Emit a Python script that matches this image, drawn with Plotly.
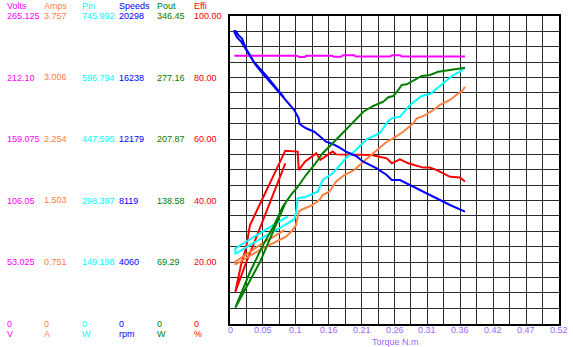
import plotly.graph_objects as go

# ---------------- data ----------------
# Speed (rpm) vs torque (N.m)
speed_t = [0.0853, 0.0569, 0.0379, 0.0253, 0.0190, 0.0138, 0.0095, 0.0068,
           0.0071, 0.0111, 0.0174, 0.0253, 0.0316, 0.0395, 0.0474, 0.0569, 0.0727,
           0.0885, 0.1016, 0.1086, 0.1098, 0.1201, 0.1332, 0.1438, 0.1517, 0.1623,
           0.1727, 0.1833, 0.1991, 0.2107, 0.2319, 0.2477, 0.2556, 0.2687, 0.2845,
           0.3055, 0.3267, 0.3477, 0.3714]
speed_v = [14918, 16370, 17262, 18153, 18813, 19011, 19275, 19341,
           19209, 18879, 18615, 18087, 17724, 17130, 16701, 16238, 15512,
           14753, 14093, 13545, 13169, 12885, 12661, 12291, 12001, 11849,
           11631, 11341, 11057, 10680, 10245, 9802, 9472, 9472, 9142,
           8700, 8265, 7822, 7380]

# Voltage (V)
volts_t = [0.0068, 0.1059, 0.1091, 0.1185, 0.1201, 0.1612, 0.1644, 0.1754,
           0.1786, 0.1960, 0.1991, 0.2529, 0.2560, 0.2687, 0.2718, 0.3714]
volts_v = [230.9, 230.9, 229.8, 229.8, 230.9, 230.9, 229.9, 229.9,
           231.2, 231.2, 230.2, 230.2, 231.2, 231.2, 230.2, 230.2]

# Efficiency (%)
effi_t = [0.0874, 0.0501, 0.0411, 0.0253, 0.0084, 0.0174, 0.0253, 0.0316,
          0.0553, 0.0874, 0.1070, 0.1086, 0.1185, 0.1364, 0.1427, 0.1623,
          0.1675, 0.1991, 0.2244, 0.2308, 0.2477, 0.2556, 0.2687, 0.2818,
          0.2951, 0.3055, 0.3161, 0.3267, 0.3371, 0.3477, 0.3635, 0.3714]
effi_v = [52.1, 32.0, 27.8, 19.7, 10.3, 19.0, 24.5, 32.0,
          42.4, 56.2, 55.9, 49.9, 52.6, 55.4, 53.2, 55.9,
          55.0, 54.8, 54.8, 54.5, 53.7, 52.1, 53.4, 52.1,
          51.2, 50.7, 50.7, 49.9, 48.8, 47.7, 47.5, 46.2]

# Output power (W)
pout_t = [0.0877, 0.0474, 0.0084, 0.0316, 0.0522, 0.0700, 0.0833, 0.0964,
          0.1070, 0.1201, 0.1332, 0.1465, 0.1623, 0.1781, 0.1939, 0.2107,
          0.2265, 0.2423, 0.2502, 0.2581, 0.2660, 0.2714, 0.2793, 0.2924,
          0.3030, 0.3161, 0.3292, 0.3477, 0.3635, 0.3714]
pout_v = [135.8, 69.3, 17.8, 58.0, 88.4, 111.0, 131.6, 144.8,
          153.8, 167.3, 178.6, 191.8, 203.0, 214.3, 225.6, 238.6,
          245.1, 249.9, 254.9, 256.3, 263.1, 268.7, 269.5, 274.3,
          278.9, 280.0, 283.7, 285.6, 287.5, 288.2]

# Input power (W)
pin_t = [0.0912, 0.0727, 0.0084, 0.0084, 0.0474, 0.0790, 0.1019, 0.1051,
         0.1070, 0.1201, 0.1386, 0.1465, 0.1623, 0.1833, 0.1991, 0.2161,
         0.2371, 0.2502, 0.2560, 0.2687, 0.2845, 0.3030, 0.3161, 0.3240,
         0.3425, 0.3529, 0.3635, 0.3714]
pin_v = [259.1, 243.1, 182.0, 168.6, 205.0, 231.7, 253.5, 275.4,
         303.7, 307.6, 319.7, 348.1, 364.4, 400.8, 420.9, 446.9,
         462.2, 491.3, 497.8, 501.7, 530.1, 551.9, 556.8, 566.5,
         590.7, 602.9, 610.9, 621.1]

# Current (A)
amps_t = [0.0858, 0.0474, 0.0084, 0.0084, 0.0517, 0.0727, 0.0885, 0.0991,
          0.1043, 0.1070, 0.1086, 0.1122, 0.1307, 0.1411, 0.1465, 0.1569,
          0.1675, 0.1807, 0.1965, 0.2107, 0.2319, 0.2477, 0.2581, 0.2739,
          0.2897, 0.2951, 0.3030, 0.3082, 0.3213, 0.3319, 0.3477, 0.3608,
          0.3662, 0.3714]
amps_v = [1.142, 0.959, 0.755, 0.721, 0.919, 0.999, 1.061, 1.142,
          1.203, 1.301, 1.366, 1.387, 1.448, 1.509, 1.570, 1.610,
          1.733, 1.814, 1.875, 1.977, 2.120, 2.221, 2.263, 2.343,
          2.446, 2.507, 2.527, 2.547, 2.608, 2.670, 2.731, 2.813,
          2.832, 2.893]

# axis tick labels
volts_ticks = ["265.125", "212.10", "159.075", "106.05", "53.025", "0"]
amps_ticks = ["3.757", "3.006", "2.254", "1.503", "0.751", "0"]
pin_ticks = ["745.992", "596.794", "447.595", "298.397", "149.198", "0"]
speed_ticks = ["20298", "16238", "12179", "8119", "4060", "0"]
pout_ticks = ["346.45", "277.16", "207.87", "138.58", "69.29", "0"]
effi_ticks = ["100.00", "80.00", "60.00", "40.00", "20.00", "0"]

x_tick_vals = [0, 0.052, 0.104, 0.156, 0.208, 0.26, 0.312, 0.364, 0.416, 0.468, 0.52]
x_tick_text = ["0", "0.05", "0.1", "0.16", "0.21", "0.26", "0.31", "0.36", "0.42", "0.47", "0.52"]

# ---------------- figure ----------------
W, H = 573, 347
FONT = "Arial, Liberation Sans, sans-serif"
GRID = "#2a2a2a"
PURPLE = "#9966FF"

C_VOLT = "#FF00FF"
C_AMP = "#FF8040"
C_PIN = "#00FFFF"
C_SPD = "#0000FF"
C_POUT = "#008000"
C_EFF = "#FF0000"

fig = go.Figure()
traces = [
    (volts_t, volts_v, C_VOLT, "y2"),
    (pin_t, pin_v, C_PIN, "y4"),
    (amps_t, amps_v, C_AMP, "y3"),
    (pout_t, pout_v, C_POUT, "y6"),
    (effi_t, effi_v, C_EFF, "y"),
    (speed_t, speed_v, C_SPD, "y5"),
]
for xs, ys, col, ax in traces:
    fig.add_trace(go.Scatter(x=xs, y=ys, mode="lines", yaxis=ax, xaxis="x",
                             line=dict(color=col, width=2), showlegend=False,
                             hoverinfo="skip"))

x0, x1 = 230 / W, 559 / W
y0, y1 = (H - 323.5) / H, (H - 16) / H

hidden = dict(overlaying="y", showgrid=False, showticklabels=False,
              zeroline=False, showline=False, ticks="", anchor="x")

fig.update_layout(
    width=W, height=H,
    margin=dict(l=0, r=0, t=0, b=0),
    paper_bgcolor="white", plot_bgcolor="white",
    font=dict(family=FONT, size=9),
    xaxis=dict(domain=[x0, x1], range=[0, 0.52], tickvals=x_tick_vals,
               showticklabels=False,
               showgrid=True, gridcolor=GRID, gridwidth=1,
               minor=dict(dtick=0.026, tick0=0, showgrid=True, gridcolor=GRID, gridwidth=1),
               showline=True, mirror=True, linecolor="black", linewidth=1.5,
               ticks="", zeroline=False, anchor="y"),
    yaxis=dict(domain=[y0, y1], range=[0, 100], dtick=5, showgrid=True,
               gridcolor=GRID, gridwidth=1, showticklabels=False, ticks="",
               showline=True, mirror=True, linecolor="black", linewidth=1.5,
               zeroline=False, anchor="x"),
    yaxis2=dict(range=[0, float(volts_ticks[0])], **hidden),
    yaxis3=dict(range=[0, float(amps_ticks[0])], **hidden),
    yaxis4=dict(range=[0, float(pin_ticks[0])], **hidden),
    yaxis5=dict(range=[0, float(speed_ticks[0])], **hidden),
    yaxis6=dict(range=[0, float(pout_ticks[0])], **hidden),
)

columns = [
    ("Volts", "V", volts_ticks, C_VOLT, "y2", 5),
    ("Amps", "A", amps_ticks, C_AMP, "y3", 42),
    ("Pin", "W", pin_ticks, C_PIN, "y4", 80),
    ("Speeds", "rpm", speed_ticks, C_SPD, "y5", 117),
    ("Pout", "W", pout_ticks, C_POUT, "y6", 155),
    ("Effi", "%", effi_ticks, C_EFF, "y", 192),
]
anns = []
for head, unit, ticks, col, ax, px in columns:
    fx = px / W
    f = dict(family=FONT, size=9, color=col)
    anns.append(dict(x=fx, y=1 - 6 / H, xref="paper", yref="paper", text=head,
                     showarrow=False, xanchor="left", yanchor="middle", font=f))
    for t in ticks:
        anns.append(dict(x=fx, y=float(t), xref="paper", yref=ax, text=t,
                         showarrow=False, xanchor="left", yanchor="middle", font=f))
    anns.append(dict(x=fx, y=1 - 334 / H, xref="paper", yref="paper", text=unit,
                     showarrow=False, xanchor="left", yanchor="middle", font=f))

# x-axis tick labels
for v, t in zip(x_tick_vals, x_tick_text):
    anns.append(dict(x=v, y=1 - 330 / H, xref="x", yref="paper", text=t,
                     showarrow=False, xanchor="center", yanchor="middle",
                     font=dict(family=FONT, size=9, color=PURPLE)))

anns.append(dict(x=395 / W, y=1 - 341.5 / H, xref="paper", yref="paper", text="Torque N.m",
                 showarrow=False, xanchor="center", yanchor="middle",
                 font=dict(family=FONT, size=9, color=PURPLE)))
fig.update_layout(annotations=anns)

fig.write_html("out.html")
